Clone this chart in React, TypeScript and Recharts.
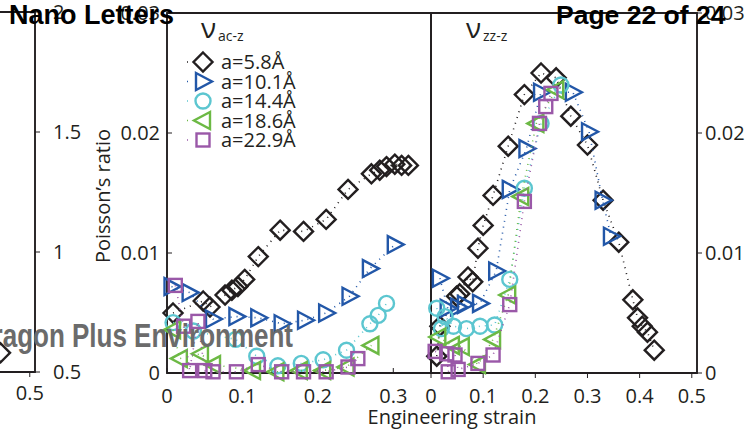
import React from 'react';
import { ScatterChart, Scatter, XAxis, YAxis, ReferenceArea } from 'recharts';

const W = 747;
const H = 433;
const FONT = '"Open Sans", sans-serif';
const HEAD_FONT = '"Liberation Sans", Arial, sans-serif';
const INK = '#231f20';

const seriesNames = ['a=5.8Å', 'a=10.1Å', 'a=14.4Å', 'a=18.6Å', 'a=22.9Å'];
const seriesColors = ['#231f20', '#2257a8', '#5cc6d0', '#6cb944', '#9a58a8'];
const seriesShapes = ['diamond', 'triRight', 'circle', 'triLeft', 'square'];

const aczStrainTicks = [0, 0.1, 0.2, 0.3];
const zzzStrainTicks = [0, 0.1, 0.2, 0.3, 0.4, 0.5];
const poissonTicks = [0, 0.01, 0.02, 0.03];
const leftPanelTicks = [0.5, 1, 1.5, 2];
const leftPanelStrainTicks = [0.5];

// nu ac-z : [strain, poisson ratio]
const acz58 = [[0.008, 0.005], [0.048, 0.006], [0.057, 0.0055], [0.077, 0.0065], [0.086, 0.0069], [0.094, 0.0072], [0.103, 0.0078], [0.121, 0.0097], [0.15, 0.0119], [0.181, 0.0118], [0.211, 0.0128], [0.24, 0.0153], [0.271, 0.0166], [0.282, 0.0169], [0.291, 0.0172], [0.302, 0.0174], [0.311, 0.0173], [0.32, 0.0173]];
const acz101 = [[0.006, 0.0072], [0.03, 0.0067], [0.061, 0.0045], [0.092, 0.0047], [0.121, 0.0046], [0.152, 0.0041], [0.183, 0.0044], [0.211, 0.005], [0.242, 0.0064], [0.269, 0.0087], [0.302, 0.0107]];
const acz144 = [[0.008, 0.0042], [0.035, 0.0035], [0.091, 0.0028], [0.119, 0.0014], [0.147, 0.0006], [0.178, 0.0008], [0.207, 0.0011], [0.238, 0.0019], [0.269, 0.0041], [0.28, 0.0048], [0.291, 0.0058]];
const acz186 = [[0.008, 0.0036], [0.017, 0.0012], [0.045, 0.0016], [0.061, 0.0007], [0.114, 0.0002], [0.145, 0.0001], [0.176, 0.0002], [0.207, 0.0002], [0.238, 0.0005], [0.271, 0.0023]];
const acz229 = [[0.011, 0.0073], [0.022, 0.0039], [0.03, 0.0002], [0.041, 0.0043], [0.05, 0.0002], [0.061, 0.0001], [0.092, 0.0001], [0.121, 0.0007], [0.152, 0.0001], [0.181, 0.0001], [0.211, 0.0001], [0.24, 0.0005], [0.253, 0.0012]];

// nu zz-z
const zzz58 = [[0.011, 0.0014], [0.017, 0.0039], [0.049, 0.0064], [0.055, 0.0066], [0.071, 0.008], [0.08, 0.0076], [0.09, 0.0104], [0.1, 0.0123], [0.119, 0.0148], [0.148, 0.0189], [0.179, 0.0232], [0.211, 0.025], [0.24, 0.0246], [0.268, 0.0214], [0.3, 0.019], [0.33, 0.0144], [0.36, 0.0109], [0.387, 0.0061], [0.396, 0.0046], [0.405, 0.0039], [0.415, 0.0034], [0.428, 0.0019]];
const zzz101 = [[0.017, 0.0079], [0.032, 0.0054], [0.052, 0.0055], [0.065, 0.0057], [0.094, 0.0058], [0.125, 0.0085], [0.151, 0.0153], [0.183, 0.0187], [0.211, 0.0234], [0.272, 0.0234], [0.303, 0.0201], [0.329, 0.0144], [0.345, 0.0114]];
const zzz144 = [[0.011, 0.0054], [0.02, 0.0037], [0.027, 0.0047], [0.043, 0.0039], [0.068, 0.0037], [0.094, 0.0039], [0.122, 0.004], [0.151, 0.0078], [0.179, 0.0154], [0.211, 0.0208], [0.249, 0.024]];
const zzz186 = [[0.014, 0.003], [0.04, 0.0023], [0.059, 0.0022], [0.09, 0.0007], [0.119, 0.0028], [0.148, 0.0065], [0.173, 0.0147], [0.202, 0.0208], [0.24, 0.0236]];
const zzz229 = [[0.008, 0.0018], [0.03, 0.0016], [0.033, 0.0001], [0.046, 0.0015], [0.052, 0.0003], [0.09, 0.0008], [0.119, 0.0015], [0.151, 0.0057], [0.179, 0.0143], [0.208, 0.0208], [0.22, 0.0222], [0.23, 0.0233]];

// cut-off panel on the left edge
const leftPanelPoints = [[0.444, 0.58]];

const aczSeries = [acz58, acz101, acz144, acz186, acz229];
const zzzSeries = [zzz58, zzz101, zzz144, zzz186, zzz229];

const toPts = (arr: number[][]) => arr.map(([x, y]) => ({ x, y }));

function Marker({ cx, cy, kind, color }: { cx: number; cy: number; kind: string; color: string }) {
  const common = { fill: 'none', stroke: color, strokeWidth: 2.4 };
  if (cx == null || cy == null) return null;
  switch (kind) {
    case 'diamond':
      return <polygon points={`${cx},${cy - 9.5} ${cx + 9.5},${cy} ${cx},${cy + 9.5} ${cx - 9.5},${cy}`} {...common} />;
    case 'triRight':
      return <polygon points={`${cx - 7},${cy - 8.5} ${cx + 9},${cy} ${cx - 7},${cy + 8.5}`} {...common} />;
    case 'triLeft':
      return <polygon points={`${cx + 7},${cy - 8.5} ${cx - 9},${cy} ${cx + 7},${cy + 8.5}`} {...common} />;
    case 'circle':
      return <circle cx={cx} cy={cy} r={7.5} {...common} />;
    default:
      return <rect x={cx - 6.5} y={cy - 6.5} width={13} height={13} {...common} />;
  }
}

const tickStyle = { fill: INK, fontSize: 20, fontFamily: FONT };
const layer: React.CSSProperties = { position: 'absolute', left: 0, top: 0 };

function renderSeries(list: number[][][], yAxisId?: string) {
  return list.map((s, i) => (
    <Scatter
      key={seriesNames[i]}
      name={seriesNames[i]}
      data={toPts(s)}
      yAxisId={yAxisId}
      isAnimationActive={false}
      line={{ stroke: seriesColors[i], strokeWidth: 1.6, strokeDasharray: '1 5' }}
      shape={(p: any) => <Marker cx={p.cx} cy={p.cy} kind={seriesShapes[i]} color={seriesColors[i]} />}
    />
  ));
}

export default function App() {
  return (
    <div style={{ position: 'absolute', left: 0, top: 0, width: W, height: H, background: '#fff', overflow: 'hidden' }}>
      {/* left, mostly cut-off panel */}
      <div style={layer}>
        <ScatterChart width={W} height={H} margin={{ top: 12, right: 652, left: 0, bottom: 31 }}>
          <XAxis type="number" dataKey="x" domain={[0.443, 0.51]} ticks={leftPanelStrainTicks} allowDataOverflow
            stroke={INK} tick={tickStyle} tickSize={5} tickMargin={9} />
          <YAxis type="number" dataKey="y" orientation="right" width={60} domain={[0.5, 2]} ticks={leftPanelTicks}
            stroke={INK} tick={tickStyle} tickSize={5} tickMargin={13} />
          <ReferenceArea x1={0} x2={0.51} y1={0.5} y2={2} ifOverflow="visible" fill="none" stroke={INK} strokeWidth={1.8} />
          <Scatter data={toPts(leftPanelPoints)} isAnimationActive={false}
            shape={(p: any) => <Marker cx={p.cx} cy={p.cy} kind="diamond" color={seriesColors[0]} />} />
        </ScatterChart>
      </div>

      {/* nu ac-z */}
      <div style={layer}>
        <ScatterChart width={W} height={H} margin={{ top: 13, right: 316, left: 107, bottom: 30 }}>
          <XAxis type="number" dataKey="x" domain={[0, 0.35]} ticks={aczStrainTicks}
            stroke={INK} tick={tickStyle} tickSize={-5} tickMargin={21} />
          <YAxis type="number" dataKey="y" width={60} domain={[0, 0.03]} ticks={poissonTicks}
            stroke={INK} tick={tickStyle} tickSize={-5} tickMargin={12} />
          <ReferenceArea x1={0} x2={0.35} y1={0} y2={0.03} fill="none" stroke={INK} strokeWidth={1.8} />
          {renderSeries(aczSeries)}
        </ScatterChart>
      </div>

      {/* nu zz-z */}
      <div style={layer}>
        <ScatterChart width={W} height={H} margin={{ top: 13, right: 0, left: 431, bottom: 30 }}>
          <XAxis type="number" dataKey="x" domain={[0, 0.51]} ticks={zzzStrainTicks}
            stroke={INK} tick={tickStyle} tickSize={5} tickMargin={11} />
          <YAxis yAxisId="r" orientation="right" type="number" dataKey="y" width={50} domain={[0, 0.03]} ticks={poissonTicks}
            stroke={INK} tick={tickStyle} tickSize={5} tickMargin={3} />
          <ReferenceArea yAxisId="r" x1={0} x2={0.51} y1={0} y2={0.03} fill="none" stroke={INK} strokeWidth={1.8} />
          {renderSeries(zzzSeries, 'r')}
        </ScatterChart>
      </div>

      {/* texts, legend, page header and watermark */}
      <svg width={W} height={H} style={{ ...layer, pointerEvents: 'none' }}>
        <text x={201} y={38} fontFamily={FONT} fontSize={28} fill={INK}>ν</text>
        <text x={218} y={41} fontFamily={FONT} fontSize={14} fill={INK}>ac-z</text>
        <text x={466} y={38} fontFamily={FONT} fontSize={28} fill={INK}>ν</text>
        <text x={483} y={41} fontFamily={FONT} fontSize={14} fill={INK}>zz-z</text>

        {seriesNames.map((n, i) => {
          const cy = 62 + i * 19.5;
          return (
            <g key={n}>
              <line x1={187} x2={193} y1={cy} y2={cy} stroke={seriesColors[i]} strokeWidth={1.6} strokeDasharray="1 5" />
              <Marker cx={203} cy={cy} kind={seriesShapes[i]} color={seriesColors[i]} />
              <text x={221} y={cy + 7} fontFamily={FONT} fontSize={20} fill={INK}>{n}</text>
            </g>
          );
        })}

        <text transform="translate(110,196) rotate(-90)" textAnchor="middle" fontFamily={FONT} fontSize={20} fill={INK}>Poisson’s ratio</text>
        <text x={452} y={424} textAnchor="middle" fontFamily={FONT} fontSize={20} fill={INK}>Engineering strain</text>

        <g transform="translate(293,347) scale(1,1.25)">
          <text x={0} y={0} textAnchor="end" fontFamily={HEAD_FONT} fontWeight="bold" fontSize={26} fill="#6b6b6b">ACS Paragon Plus Environment</text>
        </g>
        <text x={9} y={24} fontFamily={HEAD_FONT} fontWeight="bold" fontSize={27} fill="#000">Nano Letters</text>
        <text x={556} y={24} fontFamily={HEAD_FONT} fontWeight="bold" fontSize={26.5} fill="#000">Page 22 of 24</text>
      </svg>
    </div>
  );
}
